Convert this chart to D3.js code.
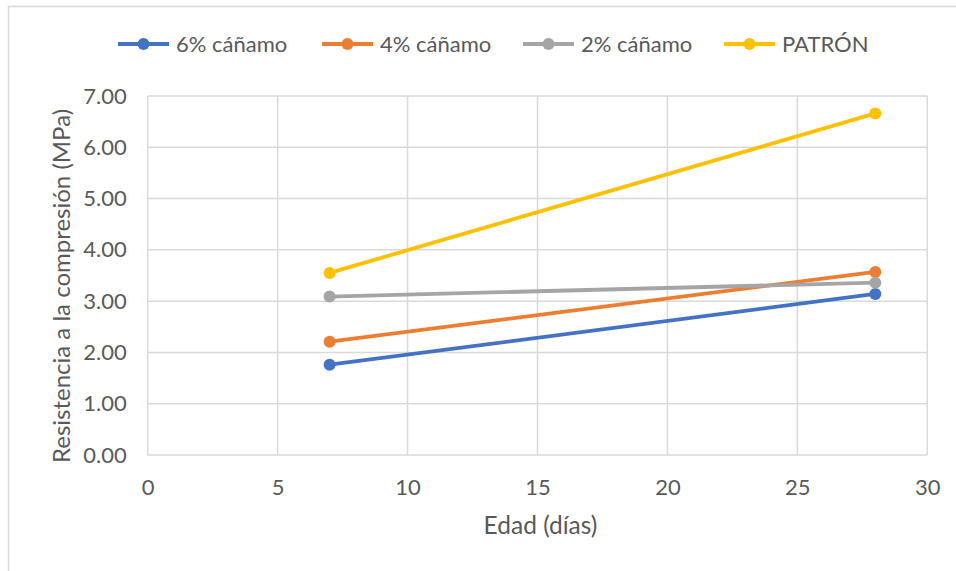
<!DOCTYPE html>
<html>
<head>
<meta charset="utf-8">
<script src="https://cdn.jsdelivr.net/npm/d3@7/dist/d3.min.js"></script>
<style>
  html, body { margin: 0; padding: 0; background: #fff; }
  svg { display: block; font-family: Lato, "Open Sans", sans-serif; }
</style>
</head>
<body>
<svg id="chart" width="956" height="571"></svg>
<script>
// Compressive strength vs. age for hemp-fibre mixes
const ages = [7, 28];
const seriesNames = ["6% cáñamo", "4% cáñamo", "2% cáñamo", "PATRÓN"];
const seriesColors = ["#4472C4", "#ED7D31", "#A5A5A5", "#FFC000"];
const hemp6 = [1.76, 3.14];
const hemp4 = [2.21, 3.57];
const hemp2 = [3.09, 3.36];
const patron = [3.55, 6.66];
const xTicks = [0, 5, 10, 15, 20, 25, 30];
const yTicks = [0, 1, 2, 3, 4, 5, 6, 7];

const seriesValues = [hemp6, hemp4, hemp2, patron];
const series = seriesNames.map((name, i) => ({
  name,
  color: seriesColors[i],
  points: ages.map((a, j) => ({ x: a, y: seriesValues[i][j] }))
}));

const svg = d3.select("#chart");
const W = 956, H = 571;
const plot = { left: 147.7, right: 927.3, top: 96, bottom: 455 };
const textColor = "#595959";
const gridColor = "#D9D9D9";

// chart area border
svg.append("rect")
  .attr("x", 8.5).attr("y", 6.5)
  .attr("width", W + 10).attr("height", H + 10)
  .attr("fill", "#fff").attr("stroke", gridColor).attr("stroke-width", 1.5);

const x = d3.scaleLinear().domain([0, 30]).range([plot.left, plot.right]);
const y = d3.scaleLinear().domain([0, 7]).range([plot.bottom, plot.top]);

// gridlines
const grid = svg.append("g");
grid.selectAll("line.h").data(yTicks).join("line")
  .attr("x1", plot.left).attr("x2", plot.right)
  .attr("y1", d => y(d)).attr("y2", d => y(d))
  .attr("stroke", gridColor).attr("stroke-width", 1.5);
grid.selectAll("line.v").data(xTicks).join("line")
  .attr("y1", plot.top).attr("y2", plot.bottom)
  .attr("x1", d => x(d)).attr("x2", d => x(d))
  .attr("stroke", gridColor).attr("stroke-width", 1.5);

// axes (labels only; lines come from the grid)
const yAxis = svg.append("g")
  .attr("transform", `translate(${plot.left},0)`)
  .call(d3.axisLeft(y).tickValues(yTicks).tickFormat(d3.format(".2f")).tickSize(0).tickPadding(21));
const xAxis = svg.append("g")
  .attr("transform", `translate(0,${plot.bottom})`)
  .call(d3.axisBottom(x).tickValues(xTicks).tickSize(0).tickPadding(24));
[yAxis, xAxis].forEach(g => {
  g.select(".domain").remove();
  g.selectAll("text")
    .attr("fill", textColor)
    .style("font-size", "22px")
    .style("font-family", "Lato, sans-serif");
});

// axis titles
svg.append("text")
  .attr("x", (plot.left + plot.right) / 2 + 3).attr("y", 534)
  .attr("text-anchor", "middle")
  .attr("fill", textColor)
  .style("font-size", "24.5px")
  .text("Edad (días)");
svg.append("text")
  .attr("transform", `translate(70,286) rotate(-90)`)
  .attr("text-anchor", "middle")
  .attr("fill", textColor)
  .style("font-size", "24px")
  .text("Resistencia a la compresión (MPa)");

// series lines and markers
const line = d3.line().x(d => x(d.x)).y(d => y(d.y));
const sg = svg.append("g").selectAll("g").data(series).join("g");
sg.append("path")
  .attr("d", d => line(d.points))
  .attr("fill", "none")
  .attr("stroke", d => d.color)
  .attr("stroke-width", 3.8)
  .attr("stroke-linecap", "round");
sg.selectAll("circle").data(d => d.points.map(p => ({ ...p, color: d.color }))).join("circle")
  .attr("cx", d => x(d.x)).attr("cy", d => y(d.y))
  .attr("r", 6)
  .attr("fill", d => d.color);

// legend
const legendX = [118, 322, 523, 724];
const legend = svg.append("g").selectAll("g").data(series).join("g")
  .attr("transform", (d, i) => `translate(${legendX[i]},44)`);
legend.append("line")
  .attr("x1", 0).attr("x2", 51)
  .attr("stroke", d => d.color).attr("stroke-width", 3.8);
legend.append("circle")
  .attr("cx", 25.5).attr("r", 6).attr("fill", d => d.color);
legend.append("text")
  .attr("x", 58).attr("y", 8)
  .attr("fill", textColor)
  .style("font-size", "22px")
  .text(d => d.name);
</script>
</body>
</html>
